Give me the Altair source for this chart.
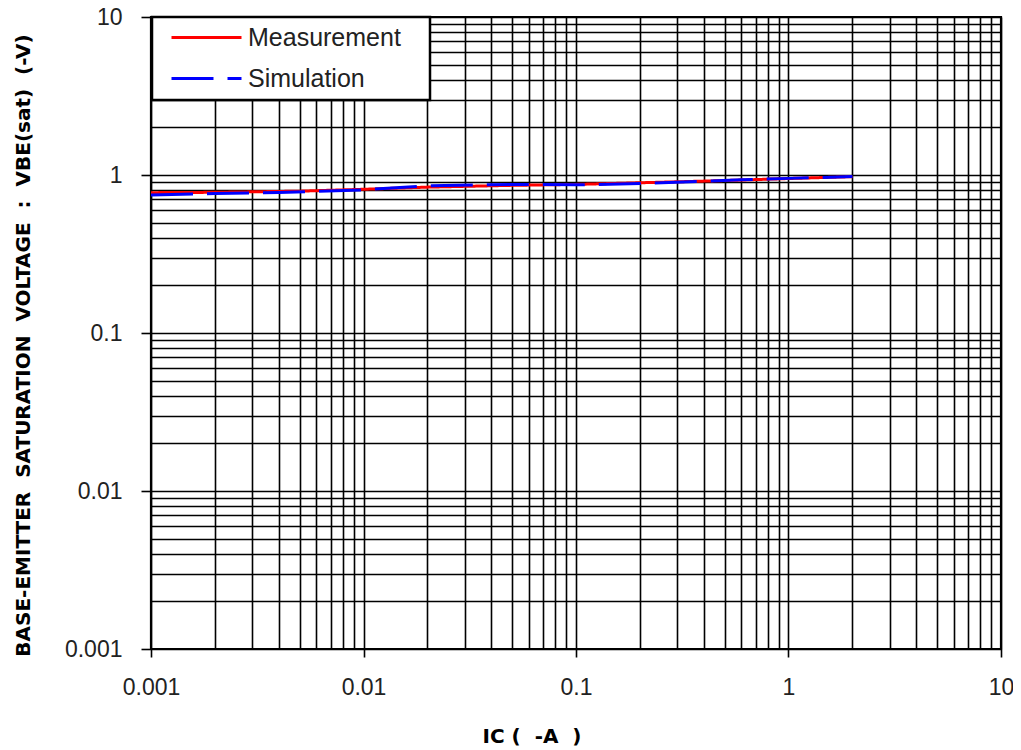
import altair as alt
import pandas as pd

# ---- data ----
series_names = ["Measurement", "Simulation"]
series_colors = ["#ff0000", "#0000ff"]
series_dashes = [[1, 0], [42, 14]]

meas_ic = [0.001, 0.002, 0.005, 0.01, 0.02, 0.05, 0.1, 0.2, 0.5, 1, 2]
meas_vbe = [0.773, 0.777, 0.790, 0.812, 0.838, 0.860, 0.872, 0.893, 0.922, 0.950, 0.976]

sim_ic = [0.001, 0.002, 0.004, 0.006, 0.01, 0.02, 0.035, 0.06, 0.1, 0.2, 0.4, 0.6, 1, 2]
sim_vbe = [0.747, 0.763, 0.775, 0.789, 0.806, 0.855, 0.867, 0.872, 0.866, 0.882, 0.912, 0.932, 0.952, 0.978]

major_ticks = [0.001, 0.01, 0.1, 1, 10]
tick_mults = [1, 2, 3, 4, 5, 6, 7, 8, 9]

x_title = "IC ( \u00a0-A \u00a0)"
y_title = "BASE-EMITTER\u00a0 SATURATION\u00a0 VOLTAGE\u00a0 :\u00a0 VBE(sat)\u00a0 (-V)"

# ---- build tables ----
df = pd.concat([
    pd.DataFrame({"ic": meas_ic, "vbe": meas_vbe, "series": series_names[0]}),
    pd.DataFrame({"ic": sim_ic, "vbe": sim_vbe, "series": series_names[1]}),
], ignore_index=True)

tick_values = sorted([round(m * d, 6) for d in major_ticks[:-1] for m in tick_mults] + [major_ticks[-1]])
major_list = ",".join(repr(v) for v in major_ticks)
major_test = f"indexof([{major_list}], datum.value) >= 0"


def make_axis(title, tick_size, label_pad, **kw):
    return alt.Axis(
        values=tick_values,
        grid=True, gridColor="#000000", gridWidth=1.6, gridOpacity=1,
        domain=False,
        ticks=True, tickColor="#000000", tickWidth=1.6, tickSize=tick_size,
        tickOpacity={"condition": {"test": major_test, "value": 1}, "value": 0},
        labelExpr=f"{major_test} ? format(datum.value, '~g') : ''",
        labelFont="Liberation Sans", labelFontSize=23, labelColor="#222222",
        labelPadding=label_pad, labelOverlap=False, labelFlush=False,
        title=title, titleFont="DejaVu Sans", titleFontWeight="bold",
        titleFontSize=20, titleColor="#000000",
        **kw,
    )


x_axis = make_axis(x_title, 8, 19, titleX=380.5, titleY=93, titleAlign="center",
                   titleBaseline="alphabetic")
y_axis = make_axis(y_title, 10, 19, titleX=-122, titleY=328, titleAlign="center",
                   titleBaseline="alphabetic", titleAngle=270)


def make_legend():
    return alt.Legend(
        title=None, orient="none", legendX=1, legendY=0, direction="vertical",
        fillColor="white", strokeColor="black", padding=8,
        symbolType="stroke", symbolSize=4900, symbolStrokeWidth=3, symbolOffset=10,
        labelOffset=5, clipHeight=25, rowPadding=15, labelLimit=300,
        labelFont="Liberation Sans", labelFontSize=25, labelColor="#222222",
        labelExpr="datum.label + '\u00a0\u00a0\u00a0\u200b'",
    )


chart = alt.Chart(df).mark_line(strokeWidth=3, clip=True).encode(
    x=alt.X("ic:Q", scale=alt.Scale(type="log", domain=[major_ticks[0], major_ticks[-1]], nice=False),
            axis=x_axis),
    y=alt.Y("vbe:Q", scale=alt.Scale(type="log", domain=[major_ticks[0], major_ticks[-1]], nice=False),
            axis=y_axis),
    color=alt.Color("series:N", scale=alt.Scale(domain=series_names, range=series_colors),
                    legend=make_legend()),
    strokeDash=alt.StrokeDash("series:N",
                              scale=alt.Scale(domain=series_names, range=series_dashes),
                              legend=make_legend()),
).properties(
    width=850, height=632,
    autosize=alt.AutoSizeParams(type="none"),
    padding={"left": 143, "top": 9, "right": 12, "bottom": 100},
    background="white",
).configure_view(
    stroke="black", strokeWidth=2.2,
).configure_legend(
    strokeWidth=2.5,
)

chart.save("out.html", embed_options={"renderer": "svg", "actions": False})
